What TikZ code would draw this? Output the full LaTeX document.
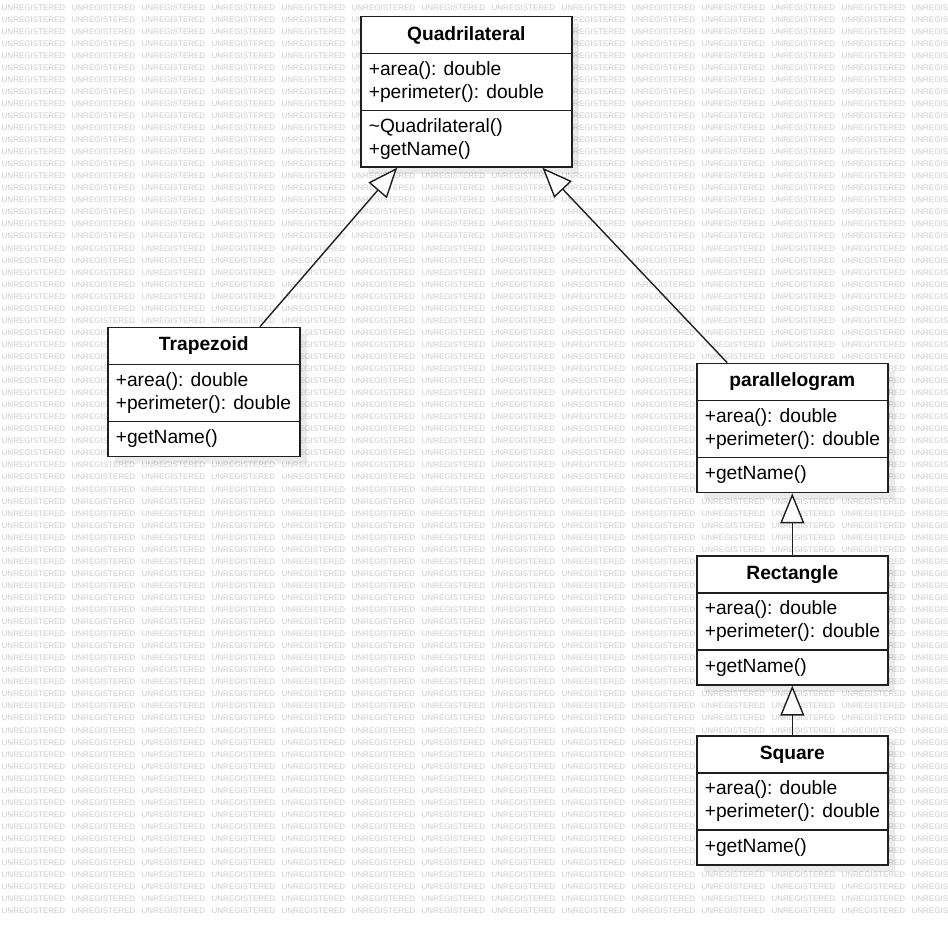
\documentclass[tikz,border=0pt]{standalone}
\usepackage{fontspec}
\setmainfont{Liberation Sans}
\usetikzlibrary{shapes.multipart,shadows,arrows.meta,calc}

\tikzset{
  umlbox/.style={rectangle split, rectangle split parts=3, draw=black!88,
    line width=1.6pt, fill=white, inner sep=0pt,
    font=\fontsize{19.2}{23}\selectfont,
    drop shadow={shadow xshift=7pt, shadow yshift=-7pt, fill=black, opacity=0.08}},
  inherits/.style={draw=black!88, line width=1.4pt,
    -{Triangle[length=30pt,width=24pt,fill=white]}},
  watermark/.style={anchor=base west, inner sep=0pt,
    font=\fontsize{8}{8}\selectfont, text=black!20}
}

\newcommand{\wmword}{\makebox[70pt][l]{UNREGISTERED}}
% name, x, y, width, title, attributes, height of method part, methods
\newcommand{\umlclass}[8]{%
  \node[umlbox, anchor=north west] (#1) at (#2,#3)
   {\parbox[c][35.4pt][c]{#4pt}{\centering\bfseries #5}%
    \nodepart{two}\parbox[c][55.4pt][c]{#4pt}{\raggedright\leftskip=8pt #6}%
    \nodepart{three}\parbox[c][#7pt][c]{#4pt}{\raggedright\leftskip=8pt #8}};}

\begin{document}
\begin{tikzpicture}[x=1pt, y=-1pt]
  \fill[white] (0,0) rectangle (948,924);
  \useasboundingbox (0,0) rectangle (948,924);

  % background stamp
  \begin{scope}
    \clip (0,0) rectangle (948,924);
    \foreach \k in {0,...,75}{
      \pgfmathsetmacro\wy{10+12.05*\k}
      \node[watermark] (wm\k) at (1.5,\wy)
        {\wmword\wmword\wmword\wmword\wmword\wmword\wmword\wmword\wmword\wmword\wmword\wmword\wmword\wmword};
    }
  \end{scope}

  % classes
  \umlclass{quad}{360}{15.7}{211}{Quadrilateral}
    {+area(): double\\+perimeter(): double}{54.8}
    {\textasciitilde Quadrilateral()\\+getName()}
  \umlclass{trap}{107}{326.7}{192}{Trapezoid}
    {+area(): double\\+perimeter(): double}{33.4}{+getName()}
  \umlclass{para}{696}{362.7}{191}{parallelogram}
    {+area(): double\\+perimeter(): double}{33.4}{+getName()}
  \umlclass{rect}{696}{555}{191}{Rectangle}
    {+area(): double\\+perimeter(): double}{33.4}{+getName()}
  \umlclass{sq}{696}{735}{191}{Square}
    {+area(): double\\+perimeter(): double}{33.4}{+getName()}

  % generalisations
  \draw[inherits] ($(trap.north west)!0.79!(trap.north east)$)
    -- ($(quad.south west)!0.175!(quad.south east)$);
  \draw[inherits] ($(para.north west)!0.162!(para.north east)$)
    -- ($(quad.south west)!0.858!(quad.south east)$);
  \draw[inherits] (rect.north) -- (para.south);
  \draw[inherits] (sq.north) -- (rect.south);
\end{tikzpicture}
\end{document}
